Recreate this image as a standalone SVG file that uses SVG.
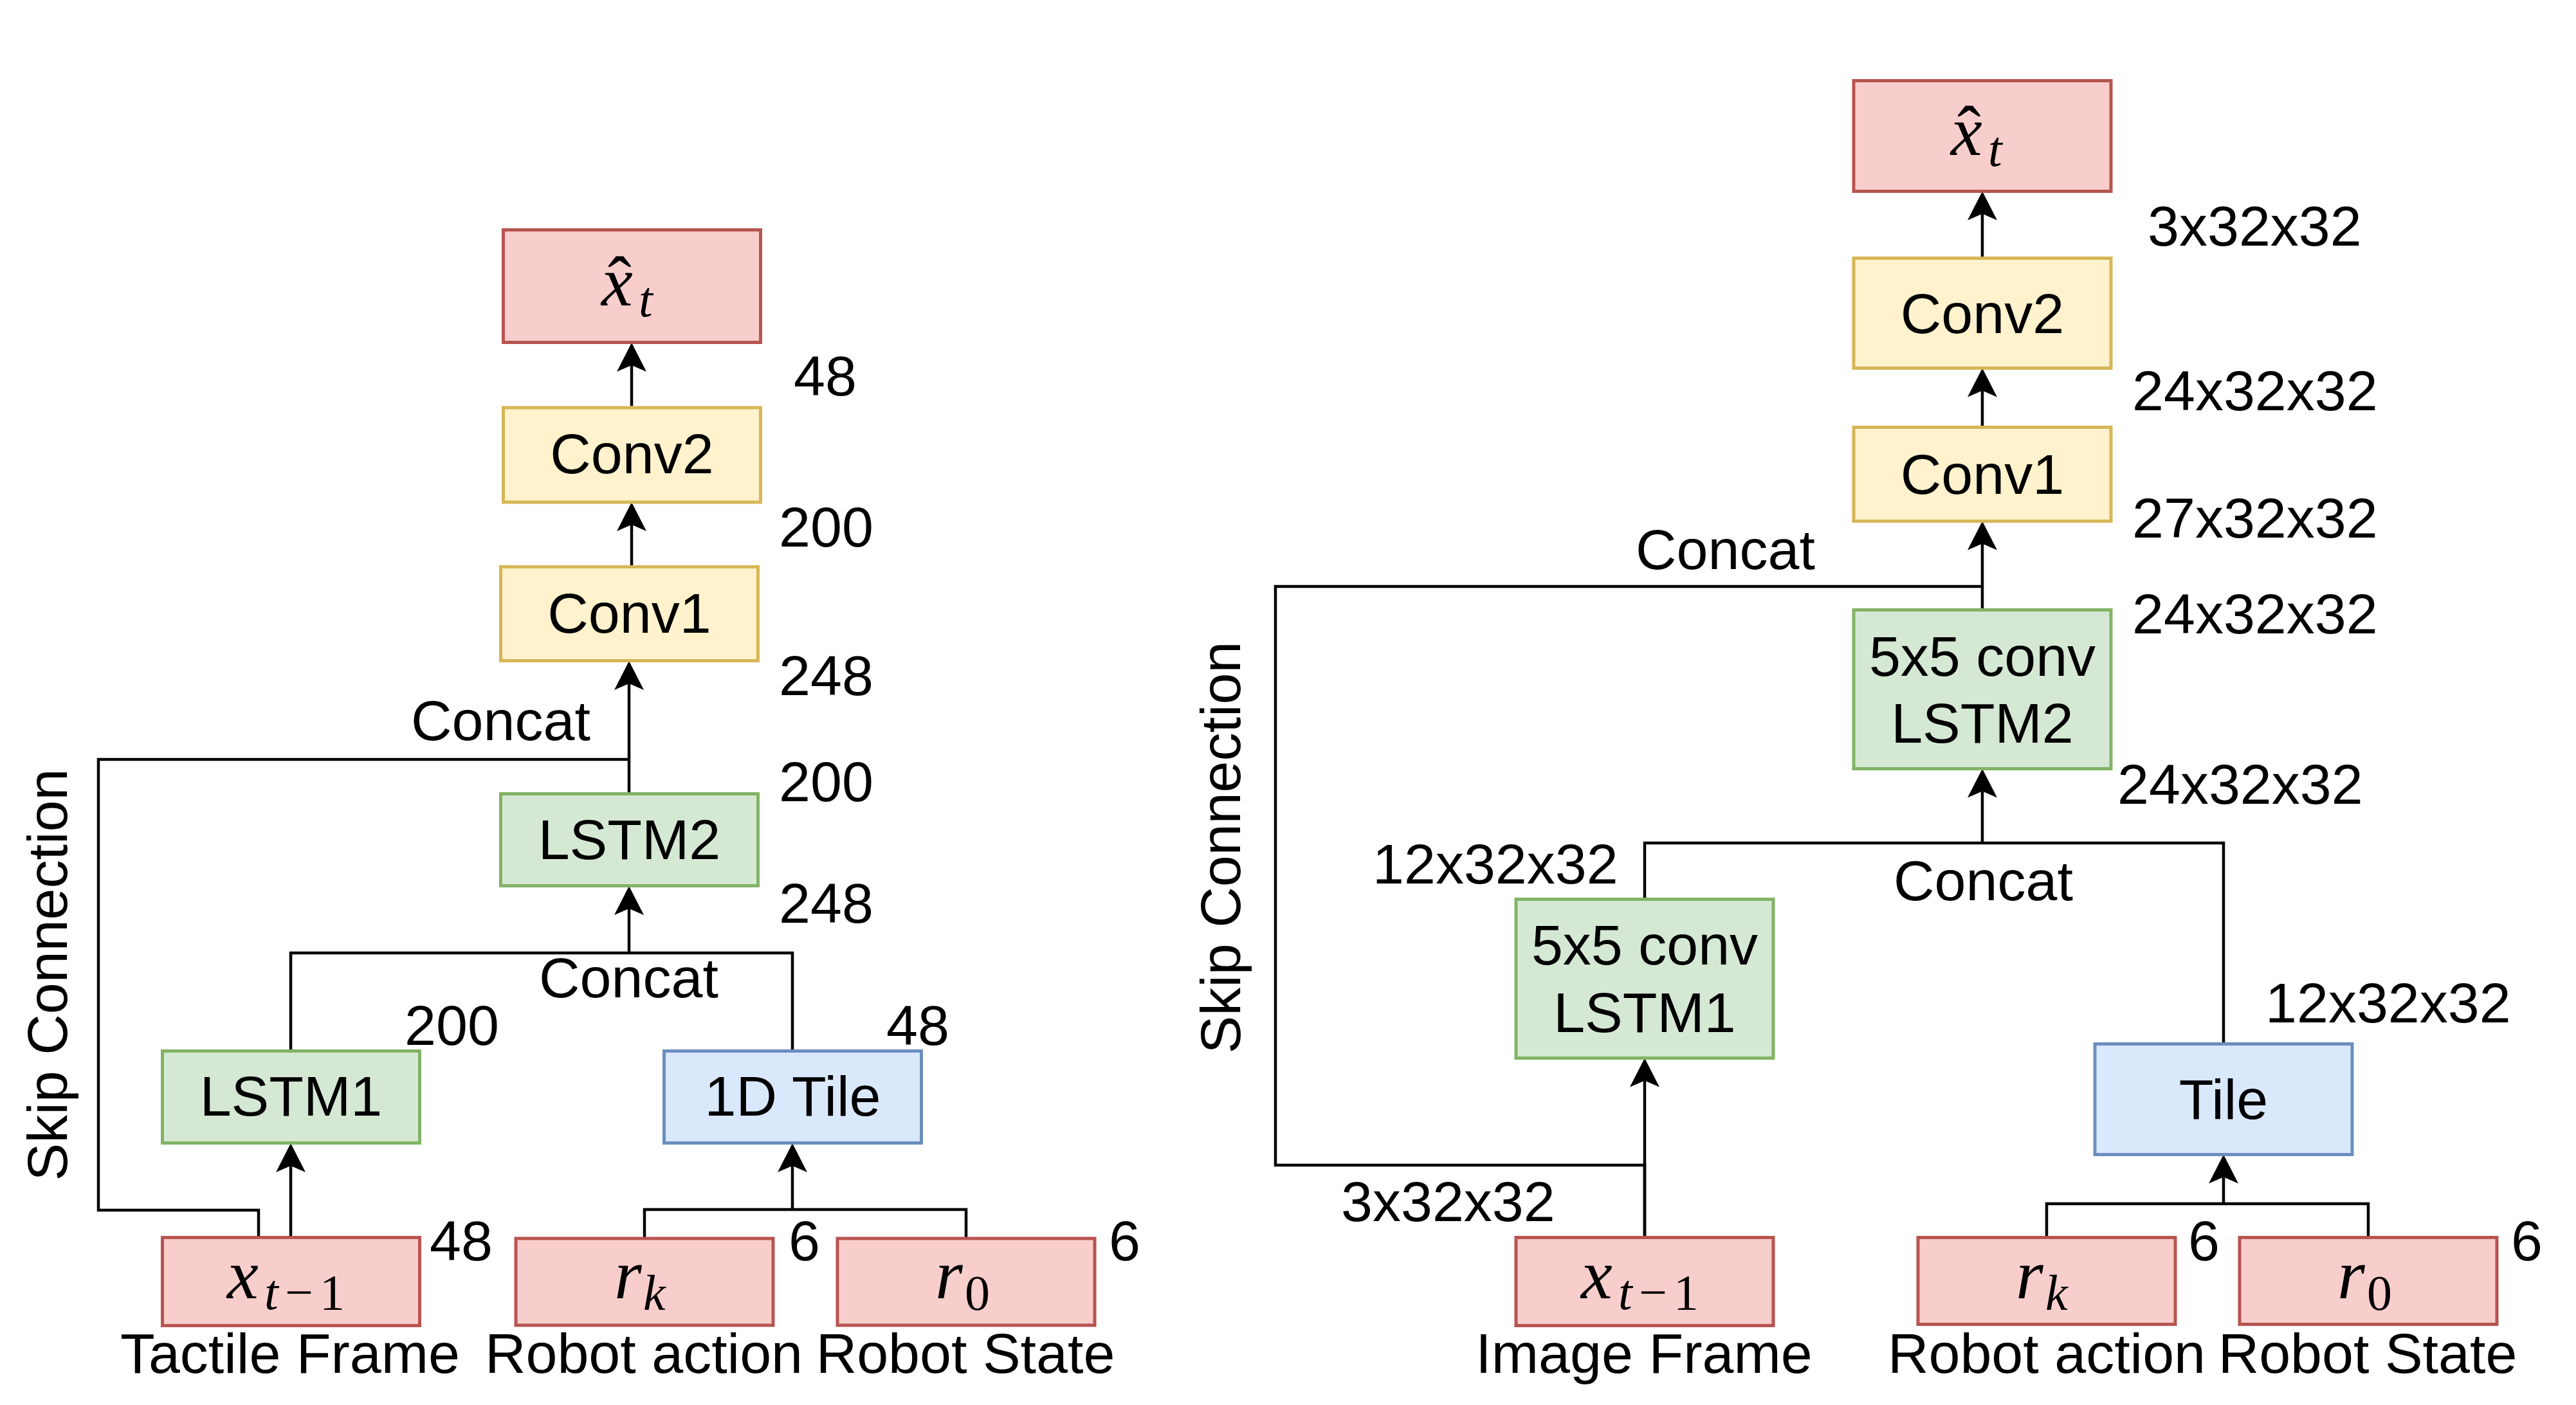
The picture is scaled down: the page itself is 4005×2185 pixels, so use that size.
<svg xmlns="http://www.w3.org/2000/svg" width="4005" height="2185" viewBox="0 0 4005 2185">
<style>
.red{fill:#f8cecc;stroke:#b85450;stroke-width:5}
.yel{fill:#fff2cc;stroke:#d6b656;stroke-width:5}
.grn{fill:#d5e8d4;stroke:#82b366;stroke-width:5}
.blu{fill:#dae8fc;stroke:#6c8ebf;stroke-width:5}
.t{font-family:"Liberation Sans",Arial,sans-serif;font-size:88px;fill:#000}
.c{text-anchor:middle}
.m{font-family:"Liberation Serif","Times New Roman",serif;font-style:italic;font-size:110px;fill:#000}
.s{font-size:78px}
.u{font-style:normal}
.ln{fill:none;stroke:#000;stroke-width:4.5}
.ar{marker-end:url(#arr)}
</style>
<defs>
<marker id="arr" markerUnits="userSpaceOnUse" markerWidth="50" markerHeight="50" viewBox="-12 -25 50 50" refX="0" refY="0" orient="auto" overflow="visible">
<path d="M35,0 L-10,-23 L0,0 L-10,23 Z" fill="#000"/>
</marker>
</defs>
<rect width="4005" height="2185" fill="#fff"/>

<g id="connectors">
<!-- left -->
<path class="ln ar" d="M982 631.5 V568"/>
<path class="ln ar" d="M982 881.5 V816"/>
<path class="ln ar" d="M978 1234.5 V1063"/>
<path class="ln" d="M402 1924.5 V1882 H153 V1181 H978"/>
<path class="ln ar" d="M452 1924.5 V1813"/>
<path class="ln" d="M452 1634.5 V1482 H1232 V1634.5"/>
<path class="ln ar" d="M978 1482 V1413"/>
<path class="ln ar" d="M1232 1881 V1813"/>
<path class="ln" d="M1002 1926 V1881 H1502 V1926"/>
<!-- right -->
<path class="ln ar" d="M3082 401.5 V332.5"/>
<path class="ln ar" d="M3082 664.5 V607.5"/>
<path class="ln ar" d="M3082 948.5 V845.5"/>
<path class="ln" d="M2557 1924.5 V1812 H1983 V912 H3082"/>
<path class="ln ar" d="M2557 1924.5 V1680.5"/>
<path class="ln" d="M2557 1398.5 V1311 H3457 V1623.5"/>
<path class="ln ar" d="M3082 1311 V1230.5"/>
<path class="ln ar" d="M3457 1872 V1830.5"/>
<path class="ln" d="M3182 1924.5 V1872 H3682 V1924.5"/>
</g>

<!-- LEFT DIAGRAM NODES -->
<g id="L-xhat">
<rect class="red" x="782.5" y="357.5" width="400" height="175"/>
<text class="m" y="475"><tspan x="935">x</tspan><tspan class="u" x="945">ˆ</tspan><tspan class="s" x="993" y="492">t</tspan></text>
</g>
<g id="L-conv2">
<rect class="yel" x="782.5" y="634" width="400" height="147"/>
<text class="t c" x="982.5" y="736">Conv2</text>
</g>
<g id="L-conv1">
<rect class="yel" x="778.5" y="881.5" width="400" height="146"/>
<text class="t c" x="978.5" y="984">Conv1</text>
</g>
<g id="L-lstm2">
<rect class="grn" x="778.5" y="1234.5" width="400" height="143"/>
<text class="t c" x="978.5" y="1336">LSTM2</text>
</g>
<g id="L-lstm1">
<rect class="grn" x="252.5" y="1634.5" width="400" height="143"/>
<text class="t c" x="452.5" y="1735">LSTM1</text>
</g>
<g id="L-tile">
<rect class="blu" x="1032.5" y="1634.5" width="400" height="143"/>
<text class="t c" x="1232.5" y="1735">1D Tile</text>
</g>
<g id="L-xprev">
<rect class="red" x="252.5" y="1924.5" width="400" height="137"/>
<text class="m" y="2019"><tspan x="353">x</tspan><tspan class="s" x="411" y="2036">t</tspan><tspan class="s u" x="443" y="2036">−</tspan><tspan class="s u" x="497" y="2036">1</tspan></text>
</g>
<g id="L-rk">
<rect class="red" x="802" y="1926" width="400" height="135"/>
<text class="m" y="2019"><tspan x="955">r</tspan><tspan class="s" x="1000" y="2037">k</tspan></text>
</g>
<g id="L-r0">
<rect class="red" x="1302" y="1926" width="400" height="135"/>
<text class="m" y="2019"><tspan x="1454">r</tspan><tspan class="s u" x="1500" y="2037">0</tspan></text>
</g>

<g id="L-labels">
<text class="t" x="1234" y="615">48</text>
<text class="t" x="1211" y="850">200</text>
<text class="t" x="1211" y="1081">248</text>
<text class="t" x="639" y="1151">Concat</text>
<text class="t" x="1211" y="1246">200</text>
<text class="t" x="1211" y="1435">248</text>
<text class="t" x="838" y="1551">Concat</text>
<text class="t" x="629" y="1625">200</text>
<text class="t" x="1378" y="1625">48</text>
<text class="t" x="668" y="1960">48</text>
<text class="t" x="1226" y="1960">6</text>
<text class="t" x="1724" y="1960">6</text>
<text class="t c" x="451" y="2135">Tactile Frame</text>
<text class="t c" x="1001" y="2135">Robot action</text>
<text class="t c" x="1501" y="2135">Robot State</text>
<text class="t c" x="0" y="0" transform="translate(104 1516) rotate(-90)">Skip Connection</text>
</g>

<!-- RIGHT DIAGRAM NODES -->
<g id="R-xhat">
<rect class="red" x="2882" y="125.5" width="400" height="172"/>
<text class="m" y="241"><tspan x="3033">x</tspan><tspan class="u" x="3043">ˆ</tspan><tspan class="s" x="3091" y="258">t</tspan></text>
</g>
<g id="R-conv2">
<rect class="yel" x="2882" y="401.5" width="400" height="171"/>
<text class="t c" x="3082" y="518">Conv2</text>
</g>
<g id="R-conv1">
<rect class="yel" x="2882" y="664.5" width="400" height="146"/>
<text class="t c" x="3082" y="768">Conv1</text>
</g>
<g id="R-lstm2">
<rect class="grn" x="2882" y="948.5" width="400" height="247"/>
<text class="t c" x="3082" y="1051">5x5 conv</text>
<text class="t c" x="3082" y="1155">LSTM2</text>
</g>
<g id="R-lstm1">
<rect class="grn" x="2357" y="1398.5" width="400" height="247"/>
<text class="t c" x="2557" y="1500">5x5 conv</text>
<text class="t c" x="2557" y="1605">LSTM1</text>
</g>
<g id="R-tile">
<rect class="blu" x="3257" y="1623.5" width="400" height="172"/>
<text class="t c" x="3457" y="1740">Tile</text>
</g>
<g id="R-xprev">
<rect class="red" x="2357" y="1924.5" width="400" height="137"/>
<text class="m" y="2019"><tspan x="2458">x</tspan><tspan class="s" x="2516" y="2036">t</tspan><tspan class="s u" x="2548" y="2036">−</tspan><tspan class="s u" x="2602" y="2036">1</tspan></text>
</g>
<g id="R-rk">
<rect class="red" x="2982" y="1924.5" width="400" height="135"/>
<text class="m" y="2019"><tspan x="3134">r</tspan><tspan class="s" x="3180" y="2037">k</tspan></text>
</g>
<g id="R-r0">
<rect class="red" x="3482" y="1924.5" width="400" height="135"/>
<text class="m" y="2019"><tspan x="3634">r</tspan><tspan class="s u" x="3680" y="2037">0</tspan></text>
</g>

<g id="R-labels">
<text class="t" x="3339" y="382">3x32x32</text>
<text class="t" x="3315" y="638">24x32x32</text>
<text class="t" x="3315" y="836">27x32x32</text>
<text class="t" x="2543" y="885">Concat</text>
<text class="t" x="3315" y="985">24x32x32</text>
<text class="t" x="3292" y="1250">24x32x32</text>
<text class="t" x="2134" y="1374">12x32x32</text>
<text class="t" x="2944" y="1400">Concat</text>
<text class="t" x="3522" y="1590">12x32x32</text>
<text class="t" x="2085" y="1899">3x32x32</text>
<text class="t" x="3402" y="1960">6</text>
<text class="t" x="3904" y="1960">6</text>
<text class="t c" x="2556" y="2135">Image Frame</text>
<text class="t c" x="3182" y="2135">Robot action</text>
<text class="t c" x="3681" y="2135">Robot State</text>
<text class="t c" x="0" y="0" transform="translate(1928 1318) rotate(-90)">Skip Connection</text>
</g>
</svg>
